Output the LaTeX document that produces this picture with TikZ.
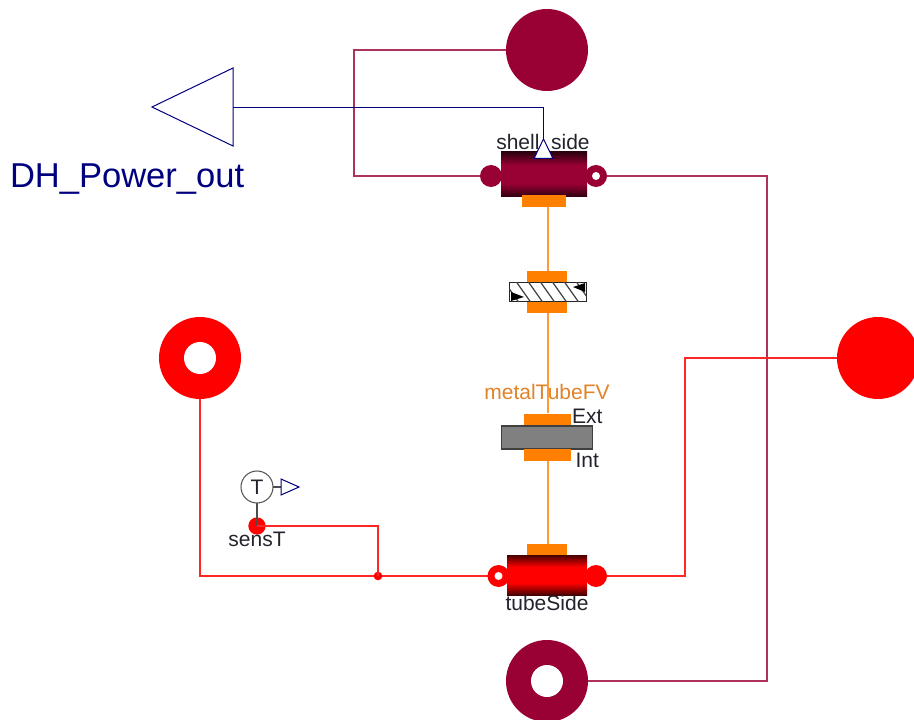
\documentclass[tikz,border=0pt]{standalone}
\usepackage{fontspec}
\setmainfont{Liberation Sans}
\definecolor{crim}{RGB}{153,0,51}
\definecolor{darkcrim}{RGB}{45,0,15}
\definecolor{rd}{RGB}{255,0,0}
\definecolor{darkrd}{RGB}{70,0,0}
\definecolor{orng}{RGB}{255,128,0}
\definecolor{nav}{RGB}{0,0,127}
\definecolor{lbl}{RGB}{35,35,45}
\definecolor{metalgray}{RGB}{128,128,128}
\pgfdeclareverticalshading{shellgrad}{100bp}{color(0bp)=(darkcrim); color(25bp)=(darkcrim); color(40bp)=(crim); color(60bp)=(crim); color(75bp)=(darkcrim); color(100bp)=(darkcrim)}
\pgfdeclareverticalshading{tubegrad}{100bp}{color(0bp)=(darkrd); color(25bp)=(darkrd); color(40bp)=(rd); color(60bp)=(rd); color(75bp)=(darkrd); color(100bp)=(darkrd)}
\tikzset{
  box/.style={rectangle,inner sep=0pt,outer sep=0pt,minimum width=#1},
  disc/.style={circle,inner sep=0pt,outer sep=0pt,minimum size=#1},
  hole/.style={disc=#1,fill=white},
  lab/.style={inner sep=0pt,outer sep=0pt,text=lbl,font=\fontsize{15.75pt}{18pt}\selectfont},
  crimline/.style={draw=crim!80!white,line width=1pt},
  redline/.style={draw=rd!85!white,line width=1pt},
  orline/.style={draw=orng!80!white,line width=1pt},
  navline/.style={draw=nav,line width=.75pt},
  orangepad/.style={box=#1,fill=orng,minimum height=8.6pt},
}
\begin{document}
\begin{tikzpicture}[x=.75pt,y=-.75pt]
\useasboundingbox (0,0) rectangle (914,720);
% labels lying under wires
\node[lab,anchor=base] (lshell) at (543,150) {shell\_side};
\node[lab,anchor=base,text={rgb,255:red,225;green,130;blue,40}] (lmetal) at (547,399) {metalTubeFV};
% big ports
\node[disc=61.5pt,fill=crim] (topport) at (547,50) {};
\node[disc=61.5pt,fill=rd] (rightport) at (878,358) {};
\node[disc=61.5pt,fill=rd] (leftport) at (200,358) {};
\node[hole=24pt] (lefthole) at (200,358) {};
\node[disc=61.5pt,fill=crim] (botport) at (547,681) {};
\node[hole=24pt] (bothole) at (547,681) {};
% output triangle
\coordinate (otip) at (152,107);
\coordinate (otop) at (233,68);
\coordinate (obot) at (233,146);
\coordinate (ojoin) at (233,107.5);
\draw[navline] (otip) -- (otop) -- (obot) -- cycle;
% component anchors
\node[box=64.5pt,minimum height=33.75pt] (shell) at (544,174.5) {};
\node[box=60pt,minimum height=30pt] (tube) at (547,575) {};
\node[disc=16.5pt] (shellL) at (491,176) {};
\node[disc=16.5pt] (shellR) at (596,176) {};
\node[disc=16.5pt] (tubeL) at (498.5,576) {};
\node[disc=16.5pt] (tubeR) at (596,576) {};
\coordinate (sinput) at (543.5,139);
% orange pads
\node[orangepad=33pt] (padA) at (544,201) {};
\node[orangepad=30pt] (padB) at (547,276.5) {};
\node[orangepad=30pt] (padC) at (547,307.5) {};
\node[orangepad=35.25pt] (padD) at (547.5,419.5) {};
\node[orangepad=35.25pt] (padE) at (547.5,455) {};
\node[orangepad=30pt] (padF) at (547,549.5) {};
% wires
\draw[crimline] (topport.west) -- (354,50) |- (shellL.center);
\draw[crimline] (shellR.center) -- (767,176) |- (botport.east);
\draw[redline] (tubeR.center) -- (685,576) |- (rightport.west);
\draw[redline] (leftport.south) |- (tubeL.center);
\draw[navline] (ojoin) -| (sinput);
\draw[orline] (548,207) -- (548,271);
\draw[orline] (548,313) -- (548,413);
\draw[orline] (548,461) -- (548,544);
% sensor
\node[disc=24pt,draw=black!65,line width=.8pt,fill=white,font=\fontsize{15.75pt}{18pt}\selectfont,text=lbl] (sens) at (257,487) {T};
\node[disc=13pt,fill=rd] (sensdot) at (257,526) {};
\node[disc=6.5pt,fill=rd] (junct) at (378,576) {};
\coordinate (sout) at (281,487);
\draw[black!70,line width=.9pt] (sens.south) -- (sensdot.center);
\draw[black!70,line width=.9pt] (sens.east) -- (sout);
\draw[navline,fill=white] (281,479) -- (299,487) -- (281,495) -- cycle;
\draw[redline] (sensdot.center) -| (junct.center);
% shell
\node[disc=16.5pt,fill=crim] at (shellL) {};
\node[disc=16.5pt,fill=crim] at (shellR) {};
\node[hole=6pt] at (shellR) {};
\node[box=64.5pt,minimum height=33.75pt,shading=shellgrad] at (shell) {};
\node[orangepad=33pt] at (padA) {};
\draw[navline,fill=white] (sinput) -- (553,158.5) -- (534,158.5) -- cycle;
% wall
\node[box=58pt,minimum height=14.5pt,draw=black!85,line width=.8pt,fill=white] (wall) at (548,292) {};
\begin{scope}
\clip (wall.south west) rectangle (wall.north east);
\foreach \tx in {503,515,527,539,551,563,575}
  \draw[black!75,line width=.9pt] (\tx,280) -- (\tx+17,304);
\end{scope}
\fill[black] (511,292) -- (524,297) -- (511,301) -- cycle;
\fill[black] (585,283) -- (573,287) -- (585,292) -- cycle;
\node[orangepad=30pt] at (padB) {};
\node[orangepad=30pt] at (padC) {};
% metal tube
\node[box=68pt,minimum height=17pt,draw=black!75,line width=1.1pt,fill=metalgray] (metal) at (547,437.5) {};
\node[orangepad=35.25pt] at (padD) {};
\node[orangepad=35.25pt] at (padE) {};
% tube
\node[disc=16.5pt,fill=rd] at (tubeL) {};
\node[hole=6pt] at (tubeL) {};
\node[disc=16.5pt,fill=rd] at (tubeR) {};
\node[box=60pt,minimum height=30pt,shading=tubegrad] at (tube) {};
\node[orangepad=30pt] at (padF) {};
% labels
\node[lab,anchor=base west] (lext) at (572,423) {Ext};
\node[lab,anchor=base west] (lint) at (575.5,467) {Int};
\node[lab,anchor=base] (ltube) at (547,610) {tubeSide};
\node[lab,anchor=base] (lsens) at (257,546) {sensT};
\node[inner sep=0pt,outer sep=0pt,anchor=base west,text=nav,font=\fontsize{25.9pt}{30pt}\selectfont] (lout) at (10,188) {DH\_Power\_out};
\end{tikzpicture}
\end{document}
